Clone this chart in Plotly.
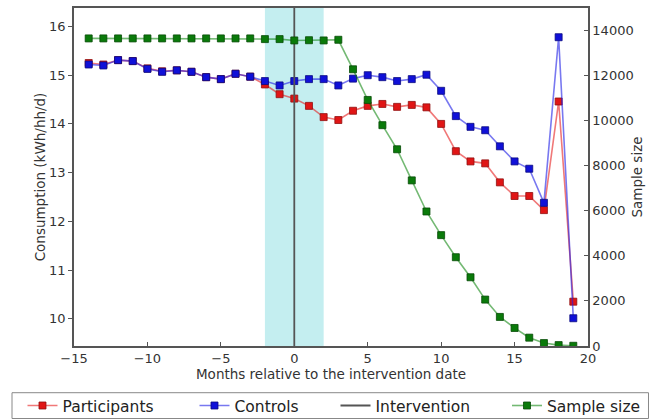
import plotly.graph_objects as go

# Months relative to the intervention date
months = list(range(-14, 20))

# Mean daily consumption (kWh per household per day)
participants = [15.25, 15.22, 15.31, 15.29, 15.14, 15.08, 15.10, 15.07, 14.96, 14.92,
                15.03, 14.97, 14.81, 14.61, 14.52, 14.37, 14.14, 14.08, 14.27, 14.37,
                14.41, 14.35, 14.39, 14.34, 14.00, 13.44, 13.23, 13.19, 12.80, 12.52,
                12.52, 12.23, 14.46, 10.35]
controls = [15.22, 15.20, 15.31, 15.29, 15.13, 15.07, 15.10, 15.07, 14.96, 14.92,
            15.03, 14.97, 14.88, 14.79, 14.88, 14.92, 14.92, 14.79, 14.93, 15.00,
            14.96, 14.88, 14.92, 15.01, 14.68, 14.16, 13.94, 13.87, 13.54, 13.23,
            13.08, 12.38, 15.78, 10.01]

# Number of households contributing to each month
sample_size = [13650, 13650, 13650, 13650, 13650, 13650, 13650, 13650, 13650, 13650,
               13650, 13650, 13620, 13620, 13560, 13570, 13560, 13590, 12280, 10920,
               9800, 8730, 7350, 5970, 4920, 3940, 3050, 2060, 1290, 800,
               370, 130, 40, 10]

intervention_month = 0
window = [-2, 2]

y_left = [9.44, 16.38]
y_right = [0, 15000]

fig = go.Figure()

fig.add_trace(go.Scatter(
    x=months, y=participants, name="Participants", mode="lines+markers",
    line=dict(color="rgba(230,30,30,0.6)", width=1.6),
    marker=dict(symbol="square", size=7, color="#e01515",
                line=dict(color="#901010", width=0.8)),
    legend="legend", legendwidth=127, yaxis="y"))

fig.add_trace(go.Scatter(
    x=months, y=controls, name="Controls", mode="lines+markers",
    line=dict(color="rgba(30,30,230,0.6)", width=1.6),
    marker=dict(symbol="square", size=7, color="#1010d8",
                line=dict(color="#0a0a80", width=0.8)),
    legend="legend", legendwidth=96, yaxis="y"))

fig.add_trace(go.Scatter(
    x=[intervention_month, intervention_month], y=y_left, name="Intervention",
    mode="lines", line=dict(color="#555555", width=1.8),
    legend="legend", yaxis="y"))

fig.add_trace(go.Scatter(
    x=months, y=sample_size, name="Sample size", mode="lines+markers",
    line=dict(color="rgba(0,128,0,0.55)", width=1.6),
    marker=dict(symbol="square", size=7, color="#0a7a0a",
                line=dict(color="#064a06", width=0.8)),
    legend="legend2", yaxis="y2"))

# Shaded window around the intervention
fig.add_shape(type="rect", xref="x", yref="paper", x0=window[0], x1=window[1],
              y0=0, y1=1, fillcolor="#c4eef0", line_width=0, layer="below")

# Frame shared by both legend groups
fig.add_shape(type="rect", xref="paper", yref="paper",
              x0=-0.1206, x1=1.1177, y0=-0.2145, y1=-0.1382,
              line=dict(color="#888888", width=1), fillcolor="rgba(0,0,0,0)",
              layer="below")

tick_font = dict(family="DejaVu Sans", size=13, color="#333333")
title_font = dict(family="DejaVu Sans", size=13.5, color="#333333")
legend_font = dict(family="DejaVu Sans", size=15.5, color="#222222")

fig.update_layout(
    width=649, height=420,
    margin=dict(l=74, r=61, t=8, b=74, autoexpand=False),
    plot_bgcolor="white", paper_bgcolor="white",
    xaxis=dict(range=[-15, 20], tickvals=[-15, -10, -5, 0, 5, 10, 15, 20],
               ticktext=["\u221215", "\u221210", "\u22125", "0", "5", "10", "15", "20"],
               showgrid=False, zeroline=False, showline=True, linecolor="#555555",
               linewidth=1.5, mirror=True, ticks="inside", ticklen=4,
               tickcolor="#555555", tickfont=tick_font,
               title=dict(text="Months relative to the intervention date",
                          font=title_font, standoff=0)),
    yaxis=dict(range=y_left, tickvals=[10, 11, 12, 13, 14, 15, 16],
               showgrid=False, zeroline=False, showline=True, linecolor="#555555",
               linewidth=1.5, ticks="outside", ticklen=4, tickcolor="#555555",
               tickfont=tick_font,
               title=dict(text="Consumption (kWh/hh/d)", font=title_font, standoff=0)),
    yaxis2=dict(range=y_right, tickvals=[0, 2000, 4000, 6000, 8000, 10000, 12000, 14000],
                tickformat="d",
                overlaying="y", side="right", showgrid=False, zeroline=False,
                showline=True, linecolor="#555555", linewidth=1.5,
                ticks="inside", ticklen=4, tickcolor="#555555", tickfont=tick_font,
                title=dict(text="Sample size", font=title_font, standoff=0)),
    legend=dict(orientation="h", x=-0.1002, y=-0.127, xanchor="left", yanchor="top",
                borderwidth=0, bgcolor="rgba(0,0,0,0)", font=legend_font,
                traceorder="normal"),
    legend2=dict(orientation="h", x=0.8424, y=-0.127, xanchor="left", yanchor="top",
                 borderwidth=0, bgcolor="rgba(0,0,0,0)", font=legend_font),
)

fig.write_html("out.html")
